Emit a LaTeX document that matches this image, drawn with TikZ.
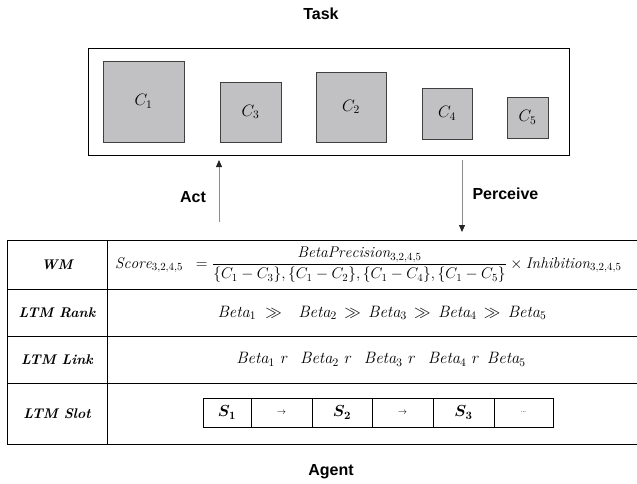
\RequirePackage{fix-cm}
\documentclass[tikz,border=0pt]{standalone}
\usepackage{amsmath,amssymb}
\usepackage{bm}
\usepackage{fontspec}
\newfontfamily\headfont{Liberation Sans}
\usetikzlibrary{arrows.meta,positioning}

\definecolor{boxgray}{RGB}{193,193,196}
\definecolor{edgegray}{RGB}{64,64,64}

\tikzset{
  cube/.style={draw=edgegray, fill=boxgray, line width=0.9pt, inner sep=0pt,
    font=\fontsize{16.5}{18}\selectfont},
  heading/.style={font=\headfont\bfseries\fontsize{16}{18}\selectfont},
  rowlabel/.style={font=\bfseries\itshape\fontsize{14}{16}\selectfont},
  rowtext/.style={font=\fontsize{16.5}{19}\selectfont},
  slot/.style={draw, line width=0.8pt, minimum height=29pt, minimum width=61pt,
    outer sep=0pt, inner sep=0pt, font=\fontsize{16}{18}\selectfont},
  flow/.style={-{Triangle[length=7pt,width=6pt,color=black!85]}, black!45, line width=0.8pt},
}

\begin{document}
\begin{tikzpicture}[x=1pt, y=-1pt]
    \useasboundingbox (0,0) rectangle (637,483);

    % Task
    \node[heading] (task) at (321,14) {Task};
    \node[draw, line width=0.9pt, minimum width=481pt, minimum height=107pt,
      inner sep=0pt] (taskbox) at (328.5,101.5) {};
    \node[cube, minimum size=81pt] (c1) at (143.5,101.5) {$C_1$};
    \node[cube, minimum width=61pt, minimum height=60pt] (c3) at (250.5,112) {$C_3$};
    \node[cube, minimum size=70pt] (c2) at (351,107) {$C_2$};
    \node[cube, minimum width=50pt, minimum height=51pt] (c4) at (447,113.5) {$C_4$};
    \node[cube, minimum size=41pt] (c5) at (527.5,117.5) {$C_5$};

    % Act and perceive
    \coordinate (actfoot) at (219,222);
    \coordinate (acttip) at (219,160);
    \draw[flow] (actfoot) -- (acttip);
    \node[heading] (act) at (193,197) {Act};
    \coordinate (pertop) at (462,160);
    \coordinate (pertip) at (462,232);
    \draw[flow] (pertop) -- (pertip);
    \node[heading, anchor=west] (perceive) at (469,194) {Perceive};

    % Agent table
    \draw[line width=0.9pt] (7,240) rectangle (640,444);
    \foreach \y in {289,336,383}
      \draw[line width=0.9pt] (7,\y) -- (640,\y);
    \draw[line width=0.9pt] (107,240) -- (107,444);

    \node[rowlabel] (wm) at (57,265) {WM};
    \node[rowlabel] (rank) at (57,313) {LTM Rank};
    \node[rowlabel] (link) at (57,359.5) {LTM Link};
    \node[rowlabel] (slotlbl) at (57,413.5) {LTM Slot};

    \node[rowtext, font=\fontsize{15.5}{18}\selectfont, anchor=west, inner sep=0pt] (score) at (115,265)
      {$\mathit{Score}_{3,2,4,5}\;\; = \dfrac{\mathit{BetaPrecision}_{3,2,4,5}}
        {\{C_1-C_3\},\{C_1-C_2\},\{C_1-C_4\},\{C_1-C_5\}} \times \mathit{Inhibition}_{3,2,4,5}$};
    \node[rowtext] (order) at (382,313)
      {$\mathit{Beta}_1 \;\gg\;\;\, \mathit{Beta}_2 \,\gg\, \mathit{Beta}_3 \,\gg\, \mathit{Beta}_4 \,\gg\, \mathit{Beta}_5$};
    \node[rowtext] (chain) at (381,359.5)
      {$\mathit{Beta}_1\,\, r\;\;\, \mathit{Beta}_2\,\, r\;\;\, \mathit{Beta}_3\,\, r\;\;\, \mathit{Beta}_4\,\, r\;\, \mathit{Beta}_5$};

    % Slots
    \node[slot, minimum width=48pt, anchor=west] (s1) at (203,412.5) {$\bm{S_1}$};
    \node[slot, right=0pt of s1] (a1) {\small$\rightarrow$};
    \node[slot, minimum width=60pt, right=0pt of a1] (s2) {$\bm{S_2}$};
    \node[slot, right=0pt of s2] (a2) {\small$\rightarrow$};
    \node[slot, right=0pt of a2] (s3) {$\bm{S_3}$};
    \node[slot, minimum width=59pt, right=0pt of s3] (rest) {\footnotesize\ldots};

    % Agent
    \node[heading] (agent) at (331,472) {Agent};
\end{tikzpicture}
\end{document}
